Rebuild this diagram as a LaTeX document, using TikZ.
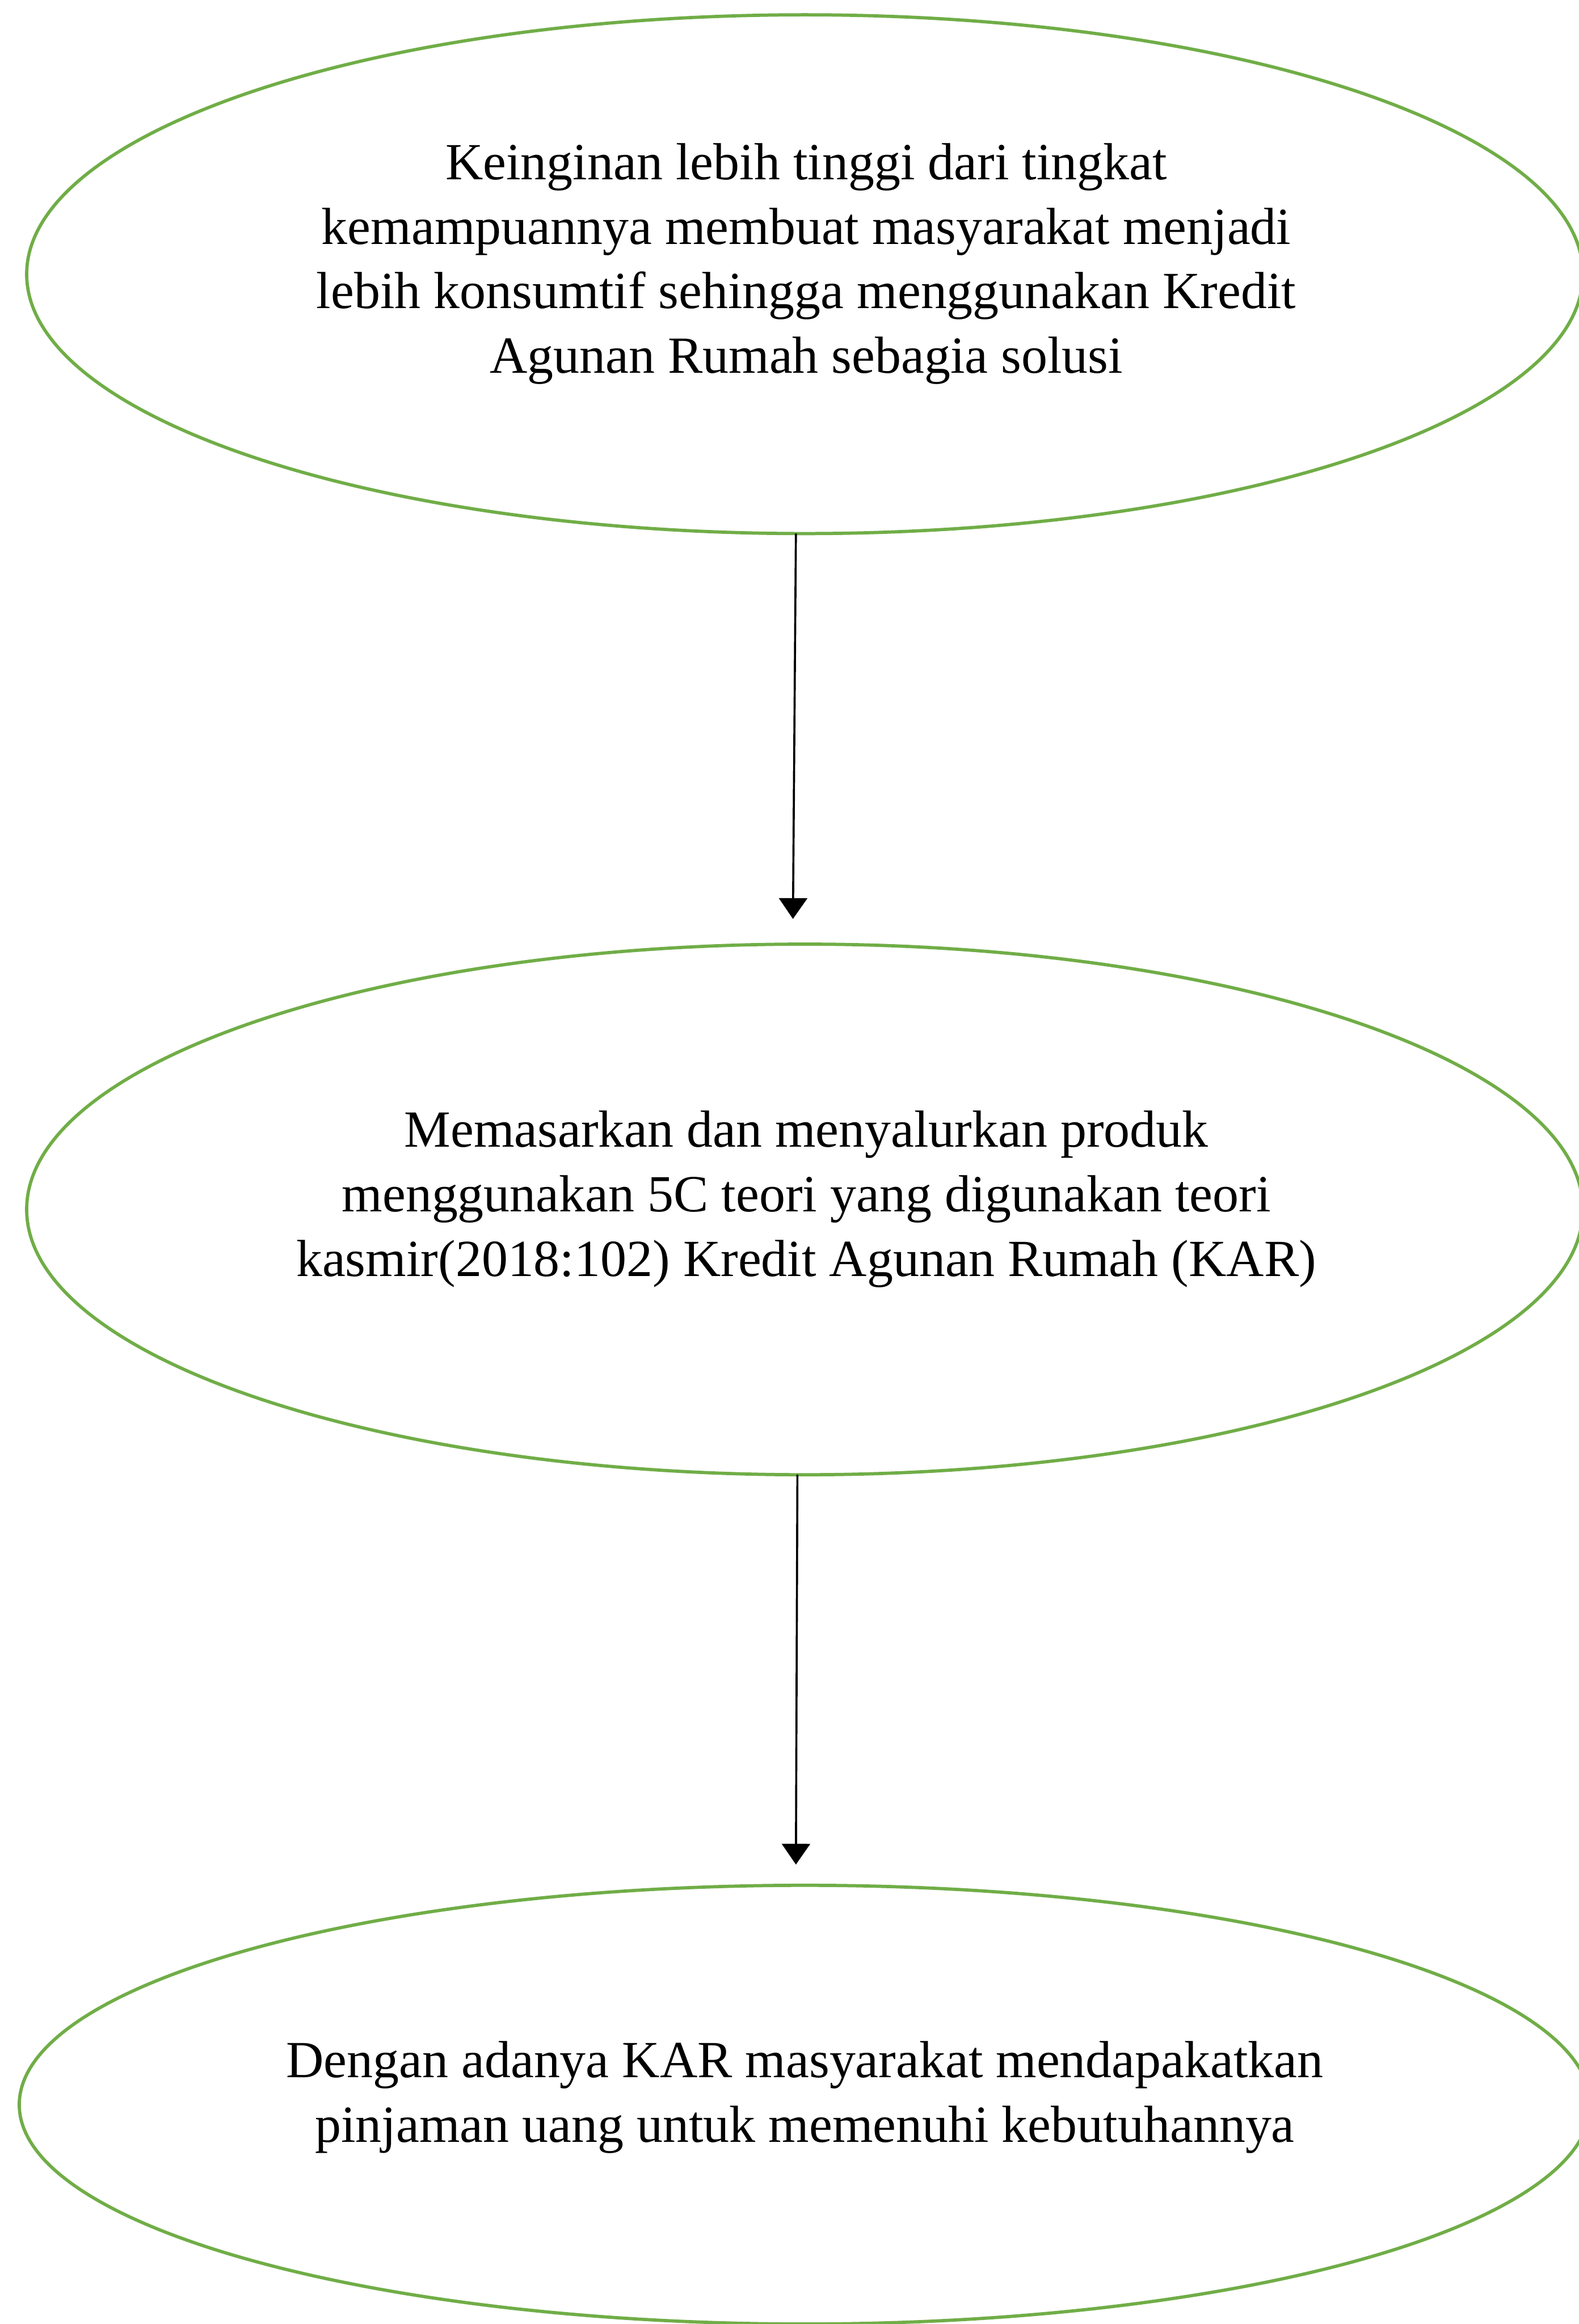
\documentclass[tikz,border=0pt]{standalone}
\usepackage{fontspec}
\setmainfont{Liberation Serif}
\usetikzlibrary{shapes.geometric,arrows.meta}
\definecolor{ovalgreen}{RGB}{112,173,71}
\tikzset{
  stage/.style={draw=ovalgreen, line width=1.1pt, ellipse, inner sep=0pt, outer sep=0pt},
  txt/.style={align=center, inner sep=0.75pt, font=\fontsize{17.6}{21.8}\selectfont},
  flow/.style={draw=black, line width=0.7pt, -{Triangle[width=9.5pt,length=7pt]}}
}
\begin{document}
\begin{tikzpicture}[x=0.5pt,y=-0.5pt]
\useasboundingbox (0,0) rectangle (1065,1568);

%Shape: Ellipse
\node [stage, minimum width=525pt, minimum height=175pt] (keinginan) at (543,185) {};
%Shape: Ellipse
\node [stage, minimum width=525pt, minimum height=179pt] (pemasaran) at (543,816) {};
%Shape: Ellipse
\node [stage, minimum width=530pt, minimum height=148pt] (pinjaman) at (543,1420) {};

% Text Node
\node [txt] (t_keinginan) at (544,178) {Keinginan lebih tinggi dari tingkat\\kemampuannya membuat masyarakat menjadi\\lebih konsumtif sehingga menggunakan Kredit\\Agunan Rumah sebagia solusi};
% Text Node
\node [txt] (t_pemasaran) at (544,809) {Memasarkan dan menyalurkan produk\\menggunakan 5C teori yang digunakan teori\\kasmir(2018:102) Kredit Agunan Rumah (KAR)};
% Text Node
\node [txt] (t_pinjaman) at (543,1415) {Dengan adanya KAR masyarakat mendapakatkan\\pinjaman uang untuk memenuhi kebutuhannya};

%Straight Lines
\draw [flow] ([xshift=-3pt]keinginan.south) -- ([xshift=-4pt,yshift=8.5pt]pemasaran.north);
%Straight Lines
\draw [flow] ([xshift=-2.5pt]pemasaran.south) -- ([xshift=-3pt,yshift=7pt]pinjaman.north);

\end{tikzpicture}
\end{document}
